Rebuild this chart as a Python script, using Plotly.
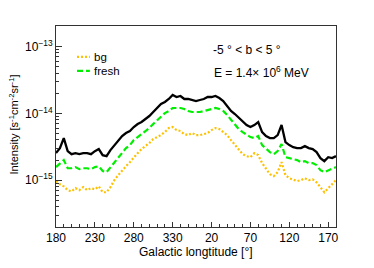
import plotly.graph_objects as go

# Galactic longitude (unwrapped: 180 -> 360 -> 180+360)
longitude = [180, 185, 190, 195, 200, 205, 210, 215, 220, 225, 230, 235, 240, 245, 250,
             255, 260, 265, 270, 275, 280, 285, 290, 295, 300, 305, 310, 315, 320, 325,
             330, 335, 340, 345, 350, 355, 360, 365, 370, 375, 380, 385, 390, 395, 400,
             405, 410, 415, 420, 425, 430, 435, 440, 445, 450, 455, 460, 465, 470, 475,
             480, 485, 490, 495, 500, 505, 510, 515, 520, 525, 530, 535, 540]

# Intensities in units of 1e-15 s^-1 cm^-2 sr^-1
total = [2.54, 3.02, 4.26, 2.72, 2.45, 2.54, 2.45, 2.54, 2.54, 2.45, 2.72, 2.92, 2.37, 2.29, 2.82,
         3.35, 3.98, 4.57, 5.07, 5.43, 6.23, 6.91, 7.41, 8.21, 9.11, 10.46, 12.01, 13.79, 14.77, 16.38,
         18.81, 17.55, 18.17, 16.38, 16.38, 15.83, 15.29, 15.83, 16.38, 17.55, 17.55, 18.17, 16.96, 15.29, 12.86,
         10.83, 9.76, 8.50, 7.67, 6.68, 6.23, 6.68, 7.41, 5.24, 4.57, 4.26, 4.26, 4.73, 6.68, 3.71,
         3.35, 3.12, 3.02, 3.02, 3.23, 3.02, 2.92, 2.63, 2.14, 1.93, 2.21, 2.14, 2.29]

fresh = [1.57, 1.80, 2.00, 1.51, 1.51, 1.57, 1.46, 1.51, 1.51, 1.46, 1.57, 1.62, 1.37, 1.32, 1.57,
         1.80, 2.21, 2.63, 3.02, 3.35, 3.98, 4.41, 4.89, 5.43, 6.02, 6.91, 7.94, 8.81, 10.10, 10.83,
         12.01, 12.01, 12.01, 11.60, 10.83, 10.46, 10.46, 10.46, 10.83, 11.21, 11.60, 12.01, 11.60, 10.83, 9.43,
         7.94, 6.91, 5.81, 5.24, 4.73, 4.41, 4.26, 4.57, 3.35, 2.92, 2.63, 2.45, 2.72, 3.47, 2.21,
         2.14, 2.07, 2.00, 1.86, 1.93, 1.80, 1.80, 1.68, 1.41, 1.32, 1.41, 1.51, 1.57]

bg = [0.97, 0.87, 0.81, 0.71, 0.68, 0.76, 0.71, 0.79, 0.71, 0.76, 0.73, 0.81, 0.66, 0.66, 0.79,
      1.00, 1.19, 1.41, 1.62, 1.86, 2.21, 2.54, 2.92, 3.23, 3.59, 4.12, 4.41, 4.73, 5.24, 6.02,
      6.23, 5.62, 5.43, 4.89, 4.73, 5.07, 4.73, 4.73, 4.89, 5.07, 5.62, 6.02, 5.81, 5.24, 4.73,
      3.98, 3.35, 2.82, 2.45, 2.29, 2.21, 2.54, 2.37, 1.80, 1.51, 1.23, 1.15, 1.32, 1.86, 1.19,
      1.07, 1.03, 0.97, 1.00, 1.07, 1.00, 1.03, 0.93, 0.79, 0.66, 0.76, 0.87, 1.00]

unit = 1e-15

tick_positions = [180, 230, 280, 330, 380, 430, 480, 530]
tick_labels = ["180", "230", "280", "330", "20", "70", "120", "170"]

FONT = "Liberation Sans, Arial, Helvetica, sans-serif"
ORANGE = "#ffc000"
GREEN = "#00ee00"

fig = go.Figure()
fig.add_trace(go.Scatter(x=longitude, y=[v * unit for v in bg], mode="lines", name="bg",
                         line=dict(color=ORANGE, width=2.2, dash="2px,2px")))
fig.add_trace(go.Scatter(x=longitude, y=[v * unit for v in fresh], mode="lines", name="fresh",
                         line=dict(color=GREEN, width=2.2, dash="6px,3px")))
fig.add_trace(go.Scatter(x=longitude, y=[v * unit for v in total], mode="lines", name="total",
                         line=dict(color="black", width=2.3)))

minor_y = [k * 10.0 ** e for e in range(-16, -12) for k in range(2, 10)]

fig.update_layout(
    width=374, height=268,
    margin=dict(l=56, r=38, t=26, b=41),
    paper_bgcolor="white", plot_bgcolor="white",
    showlegend=False,
    font=dict(family=FONT, size=12, color="black"),
    xaxis=dict(range=[180, 540], tickmode="array", tickvals=tick_positions, ticktext=tick_labels,
               ticks="inside", ticklen=5, tickcolor="#333", showgrid=False, zeroline=False,
               showline=True, mirror=True, linecolor="#333", linewidth=1,
               minor=dict(ticks="inside", ticklen=3, tickcolor="#333", dtick=10, tick0=180, showgrid=False),
               tickfont=dict(size=12)),
    yaxis=dict(type="log", range=[-15.7, -12.694], tickmode="array",
               tickvals=[1e-15, 1e-14, 1e-13],
               ticktext=["10<sup>\u221215</sup>", "10<sup>\u221214</sup>", "10<sup>\u221213</sup>"],
               ticks="inside", ticklen=6, tickcolor="#333", showgrid=False, zeroline=False,
               showline=True, mirror=True, linecolor="#333", linewidth=1,
               minor=dict(ticks="inside", ticklen=3, tickcolor="#333", tickvals=minor_y, showgrid=False),
               tickfont=dict(size=12)),
)

# axis titles
fig.add_annotation(text="Galactic longtitude [\u00b0]", xref="paper", yref="paper", x=0.5, y=-0.124,
                   xanchor="center", yanchor="middle", showarrow=False, font=dict(size=12))
fig.add_annotation(text="Intensity [s<sup>-1</sup>cm<sup>-2</sup>sr<sup>-1</sup>]", xref="paper", yref="paper",
                   x=-0.15, y=0.51, textangle=-90, xanchor="center", yanchor="middle",
                   showarrow=False, font=dict(size=11))

# text labels
fig.add_annotation(text="-5 \u00b0 < b < 5 \u00b0", xref="paper", yref="paper", x=0.554, y=0.881,
                   xanchor="left", yanchor="middle", showarrow=False, font=dict(size=12))
fig.add_annotation(text="E = 1.4\u00d7 10<sup>6</sup> MeV", xref="paper", yref="paper", x=0.557, y=0.771,
                   xanchor="left", yanchor="middle", showarrow=False, font=dict(size=12))

# legend
legend_items = [("bg", ORANGE, "2px,2px", 0.846), ("fresh", GREEN, "6px,3px", 0.777)]
for label, color, dash, yy in legend_items:
    fig.add_shape(type="line", xref="paper", yref="paper", x0=0.075, x1=0.121, y0=yy, y1=yy,
                  line=dict(color=color, width=2.2, dash=dash))
    fig.add_annotation(text=label, xref="paper", yref="paper", x=0.132, y=yy, xanchor="left",
                       yanchor="middle", showarrow=False, borderpad=0, font=dict(size=11.5))

fig.write_html("out.html", config={"displayModeBar": False},
               post_script="document.body.style.margin='0';document.body.style.padding='0';")
